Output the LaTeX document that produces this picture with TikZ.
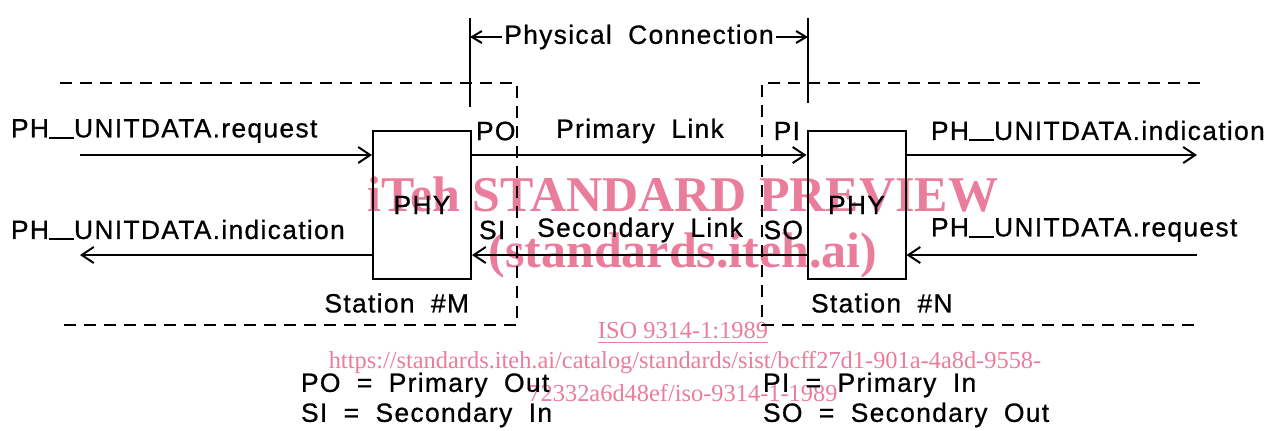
\documentclass[tikz,border=0pt]{standalone}
\usepackage{fontspec}
\setmainfont{Liberation Sans}[LetterSpace=5,WordSpace=1.9,FakeBold=0.8]
\newfontfamily\wmfont{Liberation Serif}
\usetikzlibrary{arrows.meta,positioning}
\definecolor{wmpink}{RGB}{234,124,156}
\newcommand{\ulbar}{\rule[-0.6pt]{0.95em}{1pt}}

\begin{document}
\begin{tikzpicture}[x=0.5pt,y=-0.5pt,line width=1pt,
  phy/.style={draw,minimum width=49pt,minimum height=74pt,inner sep=0pt,
    font=\fontsize{13.2}{15}\selectfont},
  lbl/.style={inner sep=0pt,font=\fontsize{13.2}{15}\selectfont},
  bnd/.style={dash pattern=on 6pt off 4pt},
  wm/.style={inner sep=0pt,text=wmpink,font=\wmfont\bfseries\fontsize{25}{28}\selectfont},
  wms/.style={inner sep=0pt,text=wmpink,font=\wmfont\fontsize{12.2}{14}\selectfont},
  >={Straight Barb[length=6pt,width=8pt]}]
  \useasboundingbox (0,0) rectangle (1270,430);
  \node[wm] (wm1) at (683,195) {iTeh STANDARD PREVIEW};
  \node[wm] (wm2) at (683,255) {(standards.iteh.ai)};
  \node[wms] (wm3) at (683,333) {\underline{ISO 9314-1:1989}};
  \node[wms] (wm4) at (685,363) {https://standards.iteh.ai/catalog/standards/sist/bcff27d1-901a-4a8d-9558-};
  \node[wms] (wm5) at (683,393) {72332a6d48ef/iso-9314-1-1989};

  \node[phy] (m) at (422,205) {PHY};
  \node[phy] (n) at (856.5,205) {PHY};
  \coordinate (reqL) at (80,155); \coordinate (indL) at (80,255);
  \coordinate (indR) at (1197,155); \coordinate (reqR) at (1197,255);
  \coordinate (pcL) at (470,37); \coordinate (pcR) at (808,37);

  \draw[bnd] (60,83) -- (517,83) -- (517,325) -- (60,325);
  \draw[bnd] (1200,83) -- (762,83) -- (762,325) -- (1200,325);
  \draw (470,18) -- (470,107); \draw (808,18) -- (808,103);
  \draw[{Straight Barb[length=5pt,width=6pt]}-{Straight Barb[length=5pt,width=6pt]}]
    (pcL) -- node[lbl,fill=white,inner xsep=1pt,inner ysep=2pt] (pc){Physical Connection} (pcR);

  \draw[->] (reqL) -- (reqL -| m.west);
  \draw[->] (indL -| m.west) -- (indL);
  \draw[->] (reqL -| m.east) -- (reqL -| n.west);
  \draw[->] (indL -| n.west) -- (indL -| m.east);
  \draw[->] (indR -| n.east) -- (indR);
  \draw[->] (reqR) -- (reqR -| n.east);

  \node[lbl,anchor=west] (lreq) at (10,131) {PH\ulbar UNITDATA.request};
  \node[lbl,anchor=west] (lind) at (10,230) {PH\ulbar UNITDATA.indication};
  \node[lbl,anchor=west] (po) at (475,131) {PO};
  \node[lbl,anchor=west] (si) at (478,230) {SI};
  \node[lbl] (pl) at (640,131) {Primary Link};
  \node[lbl] (sl) at (640,230) {Secondary Link};
  \node[lbl,anchor=east] (pi) at (801,131) {PI};
  \node[lbl,anchor=east] (so) at (804,230) {SO};
  \node[lbl,anchor=west] (rind) at (930,131) {PH\ulbar UNITDATA.indication};
  \node[lbl,anchor=west] (rreq) at (930,230) {PH\ulbar UNITDATA.request};
  \node[lbl,anchor=east] (stm) at (470,303) {Station \#M};
  \node[lbl,anchor=west] (stn) at (810,303) {Station \#N};

  \node[lbl,anchor=west] (kpo) at (300,385) {PO = Primary Out};
  \node[lbl,anchor=west] (ksi) at (300,415) {SI = Secondary In};
  \node[lbl,anchor=west] (kpi) at (762,385) {PI = Primary In};
  \node[lbl,anchor=west] (kso) at (762,415) {SO = Secondary Out};
\end{tikzpicture}
\end{document}
